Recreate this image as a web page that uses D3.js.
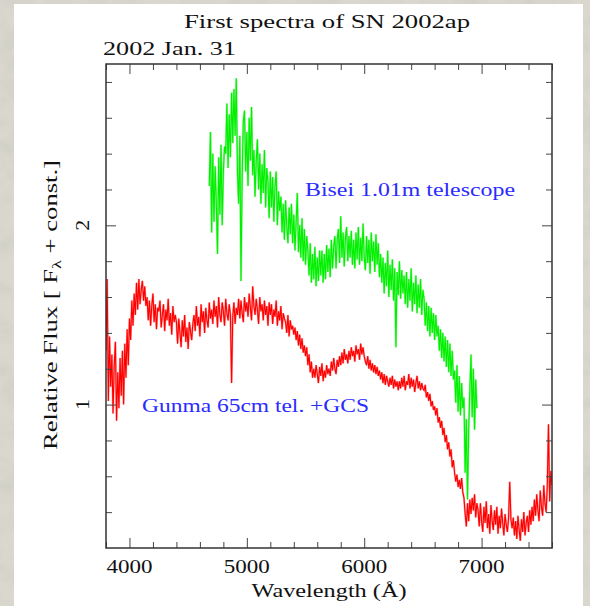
<!DOCTYPE html>
<html><head><meta charset="utf-8">
<script src="https://cdn.jsdelivr.net/npm/d3@7"></script>
<style>body{margin:0;background:#d7d5c9} svg{display:block}</style>
</head><body><svg id="c" width="590" height="606"></svg>
<script>
// ---- data ----
const redStart = 3800, redStep = 10;   // Gunma spectrum grid (Å)
const redFlux = [
1.30,1.70,1.02,1.38,1.10,1.28,0.95,1.22,1.35,0.91,1.18,0.98,1.26,1.05,1.30,1.00,1.34,1.15,1.42,1.22,
1.48,1.36,1.58,1.44,1.62,1.50,1.68,1.53,1.70,1.56,1.64,1.69,1.58,1.66,1.55,
1.60,1.47,1.58,1.44,1.55,1.62,1.46,1.56,1.42,1.54,
1.52,1.58,1.43,1.50,1.56,1.41,1.53,1.47,1.59,1.44,1.51,1.39,1.55,1.46,1.50,
1.46,1.34,1.48,1.40,1.32,1.47,1.38,1.50,1.35,1.43,1.31,1.46,1.41,1.36,1.45,
1.50,1.41,1.55,1.44,1.49,1.38,1.56,1.46,1.52,1.40,1.54,1.47,1.43,1.57,1.48,
1.53,1.45,1.58,1.49,1.55,1.43,1.60,1.50,1.46,1.57,1.52,1.44,1.59,1.51,1.47,1.56,1.50,
1.12,
1.49,1.57,1.45,1.54,1.50,1.59,
1.48,1.58,1.51,1.46,1.60,1.52,1.57,1.49,1.62,1.54,1.47,1.66,1.55,1.50,1.59,1.53,1.45,1.60,1.52,1.56,1.47,1.58,1.50,1.55,1.44,1.57,
1.50,1.56,1.45,1.53,1.49,1.58,1.44,1.52,1.47,1.55,1.42,1.51,1.48,
1.46,1.40,1.50,1.38,1.47,1.42,1.44,1.39,
1.43,1.36,1.41,1.33,1.39,1.31,1.37,1.29,1.33,
1.27,1.32,1.22,1.28,1.18,1.24,1.15,1.20,
1.15,1.22,1.17,1.12,1.21,1.16,1.23,1.13,1.19,1.15,1.22,1.17,1.20,
1.16,1.24,1.19,1.26,1.20,1.17,1.25,1.21,1.27,1.22,1.29,1.23,1.31,1.25,1.28,1.23,1.30,
1.25,1.32,1.27,1.30,1.24,1.33,1.28,1.31,1.25,1.34,1.28,1.32,1.27,
1.24,1.22,1.27,1.20,1.25,1.19,1.23,1.18,1.22,1.17,1.21,1.16,
1.19,1.14,1.18,1.12,1.17,1.11,1.16,1.13,1.10,1.15,1.11,1.16,1.09,1.14,1.10,1.13,1.08,
1.13,1.09,1.15,1.10,1.16,1.08,1.13,1.11,1.17,1.09,1.15,1.10,1.14,1.07,1.12,1.16,1.09,1.13,1.08,1.12,1.09,
1.08,1.11,1.04,1.07,1.02,1.06,0.99,1.02,0.97,
0.99,0.94,0.98,0.90,0.93,0.87,0.91,0.83,
0.87,0.79,0.83,0.75,0.79,0.71,0.75,0.65,0.69,
0.62,0.57,0.61,0.54,0.58,0.53,0.59,0.51,
0.48,0.39,0.32,0.45,0.35,
0.47,0.39,0.48,0.41,0.50,0.37,0.45,
0.41,0.32,0.45,0.35,0.29,0.43,0.34,0.46,0.31,0.39,0.28,0.44,0.35,0.30,0.41,0.33,0.43,0.28,0.38,0.31,0.42,0.34,0.27,0.39,0.33,0.29,0.37,
0.57,0.36,
0.31,0.37,0.27,0.35,0.25,0.38,0.30,0.24,0.36,0.29,0.40,0.27,0.34,0.38,0.29,0.41,0.33,
0.43,0.35,0.47,0.38,0.50,0.41,0.35,0.52,0.43,0.38,0.55,0.45,0.40,
0.55,0.89,0.46,0.63,0.55
];
const greenStart = 4680, greenStep = 10; // Bisei spectrum grid (Å)
const greenFlux = [
2.22,2.52,1.96,2.40,2.02,2.33,
2.12,1.84,2.38,2.06,2.45,2.00,2.30,2.44,
2.40,2.68,2.32,2.62,2.38,2.74,2.46,2.76,2.50,2.82,
2.30,2.12,2.50,1.69,2.26,2.58,
2.64,2.30,2.52,2.22,2.60,2.36,2.66,2.28,
2.42,2.16,2.36,2.48,2.20,2.40,2.12,2.34,2.18,2.42,2.10,2.32,
2.24,2.04,2.30,2.10,2.27,2.02,2.22,2.30,2.00,2.19,2.08,
2.16,1.96,2.12,1.92,2.14,2.00,1.90,2.10,1.95,2.12,1.90,
2.06,1.86,2.02,2.18,1.85,2.00,1.82,2.04,1.80,1.98,1.78,1.94,
1.86,1.72,1.90,1.68,1.84,1.70,1.88,1.66,1.82,1.69,1.86,
1.72,1.86,1.68,1.84,1.70,1.89,1.74,1.87,1.71,1.92,1.76,
1.88,1.94,1.76,1.92,1.98,1.79,2.05,1.82,1.96,1.77,1.93,1.99,1.80,1.94,1.82,1.97,1.78,
1.92,1.76,1.96,1.81,1.99,1.78,1.93,1.80,2.01,1.82,1.75,1.94,1.79,1.92,1.73,1.96,1.80,1.91,1.74,1.95,1.78,1.90,1.71,
1.84,1.68,1.82,1.62,1.79,1.66,1.86,1.60,1.78,1.64,1.81,1.58,1.76,1.32,1.74,1.61,1.80,1.59,1.75,1.62,
1.72,1.56,1.74,1.54,1.70,1.58,1.76,1.52,1.68,1.56,1.72,1.51,1.67,1.54,1.70,1.50,1.64,
1.59,1.44,1.57,1.41,1.55,1.38,1.54,1.40,1.51,1.36,1.50,1.38,
1.44,1.30,1.42,1.26,1.40,1.24,1.38,1.21,1.36,1.18,1.34,1.16,1.30,1.14,
1.19,1.01,1.22,0.96,1.16,0.94,1.12,0.98,
1.04,0.62,0.92,0.47,0.86,1.08,
1.28,0.93,1.20,0.86,1.14,0.98
];
const xTickLabels = [4000, 5000, 6000, 7000];
const yTickLabels = [1, 2];
const titleText = "First spectra of SN 2002ap";
const dateText = "2002 Jan. 31";
const xTitle = "Wavelength (Å)";
const redLabel = "Gunma 65cm tel. +GCS";
const greenLabel = "Bisei 1.01m telescope";

// ---- drawing ----
const svg = d3.select("#c");
const FONT = "'Liberation Serif', 'DejaVu Serif', serif";
const L = 106, R = 552, T = 64, B = 548;
const x = d3.scaleLinear().domain([3800, 7600]).range([L, R]);
const y = d3.scaleLinear().domain([0.2, 2.9]).range([B, T]);

// background (marble-like) + white panel
const defs = svg.append("defs");
const f = defs.append("filter").attr("id", "marble").attr("x", 0).attr("y", 0).attr("width", 1).attr("height", 1);
f.append("feTurbulence").attr("type", "fractalNoise").attr("baseFrequency", "0.035 0.05").attr("numOctaves", 4).attr("seed", 7);
f.append("feColorMatrix").attr("type", "matrix")
  .attr("values", "0 0 0 0 0.55  0 0 0 0 0.55  0 0 0 0 0.50  0.9 0 0 0 -0.35");
svg.append("rect").attr("width", 590).attr("height", 606).attr("fill", "#dad8ce");
svg.append("rect").attr("width", 590).attr("height", 606).attr("filter", "url(#marble)");
svg.append("rect").attr("x", 14).attr("y", 4).attr("width", 569).attr("height", 602).attr("fill", "#ffffff");

// spectra
defs.append("clipPath").attr("id", "pc").append("rect")
  .attr("x", L).attr("y", T).attr("width", R - L).attr("height", B - T);
const line = (start, step) => d3.line().x((d, i) => x(start + i * step)).y(d => y(d));
function spectrum(data, start, step, pale, strong) {
  svg.append("path").datum(data).attr("clip-path", "url(#pc)")
    .attr("d", line(start, step)).attr("fill", "none")
    .attr("stroke", pale).attr("stroke-width", 2.1);
  svg.append("path").datum(data).attr("clip-path", "url(#pc)")
    .attr("d", line(start, step)).attr("fill", "none")
    .attr("stroke", strong).attr("stroke-width", 1.1);
}
spectrum(greenFlux, greenStart, greenStep, "#9af79a", "#00f000");
spectrum(redFlux, redStart, redStep, "#ffa4a4", "#ff0000");

// ticks (inward) on all four sides
const minorX = d3.range(3800, 7601, 200).filter(v => v % 1000 !== 0);
const majorX = d3.range(4000, 7601, 1000);
const minorY = d3.range(0.4, 2.85, 0.2).map(v => +v.toFixed(1)).filter(v => v !== 1 && v !== 2);
const majorY = yTickLabels;
function tickAxis(axisFn, scale, vals, size, tx, ty) {
  const g = svg.append("g").attr("transform", `translate(${tx},${ty})`)
    .call(axisFn(scale).tickValues(vals).tickSize(size).tickFormat(""));
  g.select(".domain").remove();
  g.selectAll("line").attr("stroke", "#444").attr("stroke-width", 1);
}
tickAxis(d3.axisBottom, x, minorX, -6, 0, B);
tickAxis(d3.axisBottom, x, majorX, -10, 0, B);
tickAxis(d3.axisTop, x, minorX, -6, 0, T);
tickAxis(d3.axisTop, x, majorX, -10, 0, T);
tickAxis(d3.axisLeft, y, minorY, -6, L, 0);
tickAxis(d3.axisLeft, y, majorY, -10, L, 0);
tickAxis(d3.axisRight, y, minorY, -6, R, 0);
tickAxis(d3.axisRight, y, majorY, -10, R, 0);

// frame
svg.append("rect").attr("x", L).attr("y", T).attr("width", R - L).attr("height", B - T)
  .attr("fill", "none").attr("stroke", "#333").attr("stroke-width", 1.5);

// tick labels
svg.selectAll(".xl").data(xTickLabels).enter().append("text")
  .attr("x", d => x(d)).attr("y", 573).attr("text-anchor", "middle")
  .attr("font-family", FONT).attr("font-size", 19).attr("fill", "#111")
  .attr("textLength", 46).attr("lengthAdjust", "spacingAndGlyphs").text(d => d);
svg.selectAll(".yl").data(yTickLabels).enter().append("text")
  .attr("transform", d => `translate(89,${y(d)}) rotate(-90)`).attr("text-anchor", "middle")
  .attr("font-family", FONT).attr("font-size", 19).attr("fill", "#111")
  .attr("textLength", 11).attr("lengthAdjust", "spacingAndGlyphs").text(d => d);

// titles
svg.append("text").attr("x", (L + R) / 2 - 2).attr("y", 28).attr("text-anchor", "middle")
  .attr("font-family", FONT).attr("font-size", 19).attr("fill", "#111")
  .attr("textLength", 286).attr("lengthAdjust", "spacingAndGlyphs").text(titleText);
svg.append("text").attr("x", 103).attr("y", 55)
  .attr("font-family", FONT).attr("font-size", 19).attr("fill", "#111")
  .attr("textLength", 133).attr("lengthAdjust", "spacingAndGlyphs").text(dateText);
svg.append("text").attr("x", (L + R) / 2).attr("y", 597).attr("text-anchor", "middle")
  .attr("font-family", FONT).attr("font-size", 19).attr("fill", "#111")
  .attr("textLength", 155).attr("lengthAdjust", "spacingAndGlyphs").text(xTitle);

const yt = svg.append("text").attr("transform", "translate(57,305) rotate(-90)")
  .attr("text-anchor", "middle").attr("font-family", FONT).attr("font-size", 19).attr("fill", "#111")
  .attr("textLength", 290).attr("lengthAdjust", "spacingAndGlyphs");
yt.append("tspan").text("Relative Flux [ F");
yt.append("tspan").attr("font-size", 13).attr("dy", 4).text("λ");
yt.append("tspan").attr("dy", -4).text(" + const.]");

// series labels
svg.append("text").attr("x", 305).attr("y", 196)
  .attr("font-family", FONT).attr("font-size", 19).attr("fill", "#2b2bff")
  .attr("textLength", 210).attr("lengthAdjust", "spacingAndGlyphs").text(greenLabel);
svg.append("text").attr("x", 142).attr("y", 412)
  .attr("font-family", FONT).attr("font-size", 19).attr("fill", "#2b2bff")
  .attr("textLength", 227).attr("lengthAdjust", "spacingAndGlyphs").text(redLabel);
</script></body></html>
